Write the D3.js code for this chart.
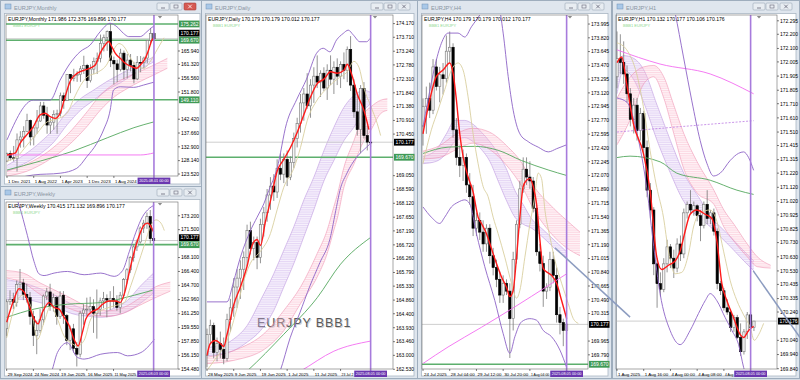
<!DOCTYPE html>
<html><head><meta charset="utf-8">
<script src="https://cdn.jsdelivr.net/npm/d3@7/dist/d3.min.js"></script>
<style>html,body{margin:0;padding:0;background:#d3dbe4;overflow:hidden}svg{display:block}</style>
</head><body>
<svg id="chart" width="800" height="380" font-family="Liberation Sans, Arial, sans-serif"></svg>
<script>
// ================= DATA =================
// ---- Monthly (idx 0 = Dec 2021) [open, high, low, close]
const mOHLC = [
[128.0,130.9,127.6,130.6],[130.6,131.6,128.2,129.1],[129.1,133.2,127.9,128.9],[128.9,137.5,124.4,135.3],
[135.3,138.3,132.6,136.3],[136.3,140.0,132.7,138.2],[138.2,144.3,138.0,142.0],[142.0,142.3,133.4,136.3],
[136.3,139.6,133.4,139.4],[139.4,145.6,137.4,141.8],[141.8,148.4,141.5,147.0],[147.0,148.4,142.6,143.8],
[143.8,146.7,137.4,140.4],[140.4,142.9,137.4,141.4],[141.4,145.5,138.8,144.1],[144.1,145.7,137.4,144.4],
[144.4,151.6,143.4,150.5],[150.5,151.6,146.0,148.8],[148.8,158.0,148.7,157.9],[157.9,158.0,151.4,156.5],
[156.5,159.8,155.5,157.5],[157.5,159.0,155.3,157.8],[157.8,160.8,155.3,159.8],[159.8,164.3,158.0,161.0],
[161.0,161.5,153.2,155.7],[155.7,161.3,155.1,159.7],[159.7,163.7,158.0,162.3],[162.3,165.4,158.0,163.4],
[163.4,171.6,162.0,168.6],[168.6,171.6,165.8,170.6],[170.6,173.0,166.0,172.6],[172.6,175.4,160.4,162.7],
[162.7,164.0,154.4,161.5],[161.5,162.9,155.2,159.5],[159.5,166.7,158.9,165.2],[165.2,166.1,156.2,159.5],
[159.5,164.9,156.5,162.8],[162.8,164.9,158.9,161.0],[161.0,162.2,154.8,156.3],[156.3,164.2,155.9,162.0],
[162.0,164.2,158.6,161.9],[161.9,164.0,159.9,163.5],[163.5,169.7,161.7,169.6],[169.6,173.9,168.2,171.986],
[171.986,172.376,169.896,170.177]];
const mRed = [[0,130.1],[2.4,130.7],[3.9,134.1],[5.9,137.0],[7.9,139.9],[9.9,143.9],[11.4,144.5],[12.9,143.3],[14.4,142.7],[15.9,144.5],[17.4,150.2],[18.9,155.4],[20.4,157.7],[21.9,158.8],[23.4,159.4],[24.9,160.0],[26.4,161.1],[27.9,165.2],[29.4,168.0],[30.4,169.2],[31.4,167.4],[32.4,165.2],[33.9,163.4],[35.4,161.7],[37.4,160.5],[38.9,160.0],[39.9,161.1],[41.4,163.4],[42.4,166.3],[43.4,169.7],[44,170.3]];
const mTan = [[0,128.0],[3,129.5],[6,133.5],[9,137.5],[12,141.5],[15,142.5],[18,144.5],[20,149.5],[22,154.0],[24,157.0],[27,158.5],[30,161.5],[32,166.5],[33.5,168.5],[35,167.5],[37,163.5],[39,160.5],[41,160.0],[43,162.5],[45,166.5],[47,170.5]];
const mBBU = [[0,135.3],[7.9,149.0],[12.9,149.0],[15.9,155.9],[18.9,161.7],[21.9,165.7],[24.9,168.0],[27.9,172.6],[30.9,175.5],[32.9,174.3],[34.9,172.0],[36.4,170.9],[39.9,170.9],[41.9,172.6],[43.4,174.1],[44,174.5]];
const mBBL = [[0,121.0],[7.9,123.2],[15.9,123.8],[20.9,125.5],[23.9,129.5],[26.9,134.1],[28.9,138.7],[30.9,145.6],[31.9,152.5],[33.9,153.6],[37.9,153.4],[40.9,154.2],[43.4,155.0],[44,155.2]];
const mPurple = [[0,126.5,124.5],[5,130.0,127.0],[10,134.5,130.5],[14,139.0,134.5],[18,145.0,140.5],[22,149.5,145.5],[26,152.5,149.0],[30,155.5,152.5],[34,158.0,155.0],[38,160.5,158.0],[42,162.8,161.0],[44,164.0,162.2]];
const mPink = [[0,124.5,122.8],[6,127.0,124.5],[12,131.0,128.0],[18,137.0,133.0],[24,145.0,140.0],[28,150.8,145.6],[32,154.5,150.0],[36,157.0,153.0],[40,159.0,155.5],[44,161.1,157.7],[48,163.4,160.0]];
const mGreen = [[0,124.9],[10,128.0],[20,131.5],[30,136.0],[38,139.5],[44,141.5]];
const mMagenta = [[0,130.1],[40,130.1],[44,130.8]];
const mLevels = [175.262,169.670,149.110];
const mTicks = ['165.940','161.320','156.560','151.800','147.040','142.420','137.660','132.900','128.140','123.520'];
const mTimes = [[0,'1 Dec 2021'],[8,'1 Aug 2022'],[16,'1 Apr 2023'],[24,'1 Dec 2023'],[32,'1 Aug 2024']];

// ---- Weekly (idx 0 = 29 Sep 2024)
const wOHLC = [
[159.4,163.0,158.5,162.7],[162.7,164.1,162.3,163.0],[163.0,163.8,161.8,162.6],[162.6,165.3,162.1,164.8],
[164.8,166.7,164.0,165.0],[165.0,165.5,162.9,163.6],[163.6,164.9,162.6,163.2],[163.2,163.9,159.9,160.9],
[160.9,161.6,157.3,158.6],[158.6,160.4,156.3,159.2],[159.2,161.8,158.9,160.5],[160.5,163.6,159.9,163.4],
[163.4,164.4,162.9,163.9],[163.9,164.9,161.6,162.1],[162.1,163.7,161.5,163.2],[163.2,163.4,159.9,160.9],
[160.9,164.0,160.6,163.4],[163.5,164.0,160.0,161.0],[161.0,161.2,157.4,158.0],[158.0,159.8,156.8,159.4],
[159.4,160.0,156.5,157.0],[157.0,157.8,154.8,156.3],[156.3,161.6,155.9,161.3],[161.3,162.4,159.9,161.7],
[161.7,163.2,161.0,161.8],[161.8,163.3,161.4,162.1],[162.1,163.0,158.9,161.3],[161.3,164.2,158.2,161.8],
[161.8,163.2,161.0,162.8],[162.8,163.9,161.9,163.1],[163.1,163.6,160.8,162.9],[162.9,164.0,161.7,163.1],
[163.1,164.6,162.0,162.8],[162.8,163.5,161.6,162.0],[162.0,163.9,161.3,163.5],[163.5,165.6,163.1,165.4],
[165.4,166.8,164.9,166.6],[166.6,168.3,166.2,168.1],[168.1,169.6,167.6,169.4],[169.4,170.3,168.9,170.0],
[170.0,171.9,169.8,171.7],[171.7,172.7,171.1,172.3],[172.3,173.6,171.6,173.1],[173.1,173.9,169.8,170.4],
[170.415,171.132,169.896,170.177]];
const wRed = [[0,160.2],[2.2,163.0],[3.7,164.3],[5.2,163.9],[6.7,162.2],[8.2,160.6],[9.4,160.0],[10.7,161.4],[12.7,162.6],[14.2,162.0],[15.7,161.8],[17.2,160.8],[18.7,159.8],[20.2,158.1],[21.4,157.3],[22.7,159.0],[23.7,160.6],[25.2,161.4],[27.2,161.8],[28.7,162.4],[30.7,162.8],[32.7,162.8],[34,162.6],[35.4,163.9],[36.7,166.3],[38.2,168.8],[39.7,170.8],[41.2,172.1],[42.2,172.3],[43.2,171.9],[44,171.2]];
const wTan = [[0,158.3],[2.2,161.8],[4.7,163.5],[7.2,162.2],[9.2,158.1],[11.2,160.2],[13.2,162.2],[15.2,160.6],[17.2,158.5],[19.2,157.7],[21.2,157.3],[23.2,158.0],[25.2,160.6],[27.2,161.4],[29.2,161.8],[32.2,162.2],[35.2,162.6],[37.2,164.7],[39.2,167.1],[41.2,169.6],[43.2,172.0],[44.7,172.7],[46.2,172.3],[47.2,171.4]];
const wBBU = [[0,177.5],[2,176.3],[3.7,174.5],[6.2,170.8],[8.2,167.6],[9.7,166.1],[11.2,165.9],[14.2,166.2],[18.2,166.4],[23.2,166.0],[28.2,166.2],[32.2,165.8],[34.7,166.5],[36.7,168.8],[38.7,171.2],[40.7,173.1],[42.7,174.1],[44.2,174.5]];
const wBBL = [[0,152.5],[8,152.5],[13.2,154.0],[15.2,156.5],[18.2,157.7],[21.2,155.9],[23.2,155.7],[28.2,156.3],[33.2,156.5],[36.2,156.1],[40.2,156.5],[44.2,158.1]];
const wPurple = [[0,165.4,163.0],[5,165.0,163.0],[10,164.3,162.6],[15,163.4,162.0],[20,162.3,161.2],[25,161.6,160.9],[28,161.3,160.8],[32,161.9,161.0],[36,162.8,161.5],[40,164.6,162.5],[44,166.2,163.8]];
const wPink = [[0,166.5,165.6],[5,166.2,165.0],[10,165.0,163.6],[13,164.4,162.9],[18,163.4,162.0],[25,162.0,161.1],[30,161.6,160.9],[35,162.0,161.3],[40,163.2,162.3],[44,164.4,163.1],[49,165.1,164.0]];
const wGreen = [[0,160.8],[8.2,161.8],[18.2,162.4],[28.2,162.6],[38.2,163.5],[43.7,164.1]];
const wLevels = [169.670];
const wTicks = ['173.200','171.500','168.100','166.400','164.700','162.960','161.250','159.550','157.850','156.150','154.480'];
const wTimes = [[0,'29 Sep 2024'],[8,'24 Nov 2024'],[16,'19 Jan 2025'],[24,'16 Mar 2025'],[32,'11 May 2025']];

// ---- Daily (idx 0 = 28 May 2025)
const dOHLC = [
[163.0,163.9,162.6,163.7],[163.7,164.2,163.4,164.0],[164.0,164.1,162.9,163.1],[163.1,163.6,162.8,163.4],
[163.4,163.8,162.9,163.2],[163.2,163.6,162.7,162.9],[162.9,164.4,162.8,164.2],[164.2,164.9,163.8,164.6],
[164.6,165.6,164.3,165.3],[165.3,165.9,164.6,165.6],[165.6,166.2,164.9,165.9],[165.9,166.5,165.2,166.3],
[166.3,167.4,166.0,167.2],[167.2,167.5,166.4,166.6],[166.6,167.0,166.2,166.8],[166.8,167.0,165.9,166.3],
[166.3,167.6,166.1,167.4],[167.4,168.0,167.0,167.8],[167.8,168.6,167.5,168.4],[168.4,169.0,167.9,168.7],
[168.7,169.1,168.2,168.5],[168.5,169.6,168.3,169.3],[169.3,169.8,168.9,169.1],[169.1,169.8,168.8,169.6],
[169.6,169.9,168.7,169.0],[169.0,169.7,168.9,169.5],[169.5,170.5,169.3,170.3],[170.3,171.0,170.0,170.8],
[170.8,171.8,170.5,171.5],[171.5,172.0,170.9,171.8],[171.8,172.5,171.3,171.4],[171.4,172.3,171.0,172.1],
[172.1,172.7,171.5,172.4],[172.4,173.1,172.0,172.2],[172.2,172.6,171.7,172.5],[172.5,172.7,171.9,172.0],
[172.0,172.8,171.6,172.6],[172.6,173.1,172.1,172.3],[172.3,172.9,171.8,172.7],[172.7,173.0,172.1,172.4],
[172.4,172.9,172.0,172.8],[172.8,173.2,172.3,172.6],[172.6,173.4,172.2,173.3],[173.3,173.75,171.9,172.1],
[172.1,172.3,171.0,171.2],[171.2,171.8,170.4,170.6],[170.6,172.1,169.8,171.99],[171.99,172.2,170.3,170.4],
[170.4,170.75,169.9,170.18],[170.179,170.179,170.012,170.177]];
const dRed = [[0,163.0],[1,163.4],[2.5,163.5],[4,163.4],[5,163.3],[6,163.7],[8,164.7],[10,165.3],[12,166.0],[13.5,166.7],[15,166.9],[16,166.7],[17.5,167.5],[19,168.2],[21,169.2],[23,169.6],[25,170.0],[27,170.5],[29,171.1],[31,171.7],[33,172.15],[35,172.3],[37,172.55],[39,172.5],[41,172.6],[42,172.8],[43.5,172.4],[45,171.8],[47,171.25],[48.5,170.6]];
const dTan = [[0,162.5],[2,162.8],[7,163.8],[9,164.6],[11,165.5],[13,166.1],[16,166.5],[19,167.1],[21,167.9],[23,168.66],[26,169.3],[28,170.0],[30,170.9],[33,171.6],[36,172.0],[39,172.3],[42,172.55],[44,172.9],[45.5,172.7],[47,172.0],[49,171.4],[51,170.8],[52,170.4]];
const dBBU = [[0,164.8],[6,164.8],[8,165.5],[10,166.3],[13,167.2],[15,167.65],[17,168.1],[18.5,168.55],[21,169.3],[23.8,170.8],[26.8,171.6],[29.8,172.3],[32.8,173.17],[34.8,173.34],[36.8,173.22],[38.8,173.62],[40.8,173.84],[42.3,173.95],[43.8,173.79],[45.8,173.56],[47.8,173.56],[48.8,173.67]];
const dBBL = [[0,161.3],[10,161.0],[18,161.6],[21.9,162.47],[24.9,163.59],[27.8,164.43],[30.8,165.33],[33.8,166.12],[36.8,166.91],[38.8,168.01],[39.8,168.55],[41.8,169.11],[44.8,169.67],[47.8,170.01],[48.8,170.12]];
const dPurple = [[0,163.27,162.99],[5,163.36,163.05],[8,163.55,163.16],[12,164.0,163.44],[16,164.85,163.83],[20,165.75,164.51],[23,166.54,165.30],[26,167.33,166.09],[29,168.23,166.99],[32,169.0,167.9],[35,169.89,168.87],[38,170.68,169.56],[41,171.35,170.23],[44,171.75,170.68],[47,171.92,171.25],[49,171.86,171.47]];
const dPink = [[0,162.94,162.72],[8,163.16,162.83],[18,163.83,163.27],[23,164.51,163.83],[28,165.30,164.74],[33,166.43,165.64],[36,167.22,166.43],[38,168.01,167.22],[39,168.4,167.6],[41,169.33,168.66],[44,170.23,169.44],[47,171.14,170.23],[49,171.36,170.57],[52,171.59,171.14],[54,171.64,171.25]];
const dGreen = [[0,161.0],[5,161.8],[12,162.47],[23,163.71],[33,164.94],[40,166.07],[49,166.97]];
const dMagenta = [[20,162.0],[28,162.47],[38,163.14],[49,163.48]];
const dLevels = [169.670];
const dTicks = ['174.170','173.710','173.240','172.780','172.310','171.840','171.380','170.910','170.450','169.980','169.520','169.050','168.590','168.120','167.650','167.190','166.720','166.260','165.790','165.330','164.860','164.400','163.930','163.460','163.000','162.530'];
const dTimes = [[0,'28 May 2025'],[8,'9 Jun 2025'],[16,'19 Jun 2025'],[24,'1 Jul 2025'],[32,'11 Jul 2025'],[40,'23 Jul 2']];

// ---- H4 (idx 0 = 24 Jul 2025 20:00)
const h4OHLC = [
[172.70,173.05,172.45,172.95],[172.95,173.20,172.60,173.05],[173.05,173.25,172.80,172.90],[172.90,173.55,172.85,173.45],
[173.45,173.55,173.15,173.20],[173.20,173.45,173.00,173.35],[173.35,173.50,173.10,173.30],[173.30,173.85,173.25,173.65],
[173.65,173.90,173.50,173.70],[173.70,173.75,172.55,172.65],[172.65,172.80,172.20,172.30],[172.30,172.45,172.05,172.20],
[172.20,172.40,172.00,172.30],[172.30,172.35,171.85,171.95],[171.95,172.10,171.70,171.80],[171.80,171.95,171.30,171.40],
[171.40,171.60,171.30,171.50],[171.50,171.60,171.25,171.35],[171.35,171.50,171.10,171.20],[171.20,171.45,171.10,171.40],
[171.40,171.45,170.95,171.05],[171.05,171.15,170.80,170.90],[170.90,171.00,170.65,170.75],[170.75,170.85,170.45,170.55],
[170.55,170.80,170.45,170.70],[170.70,170.75,170.55,170.60],[170.60,170.70,169.75,170.25],[170.25,171.10,170.10,171.00],
[171.00,171.50,170.95,171.45],[171.45,172.00,171.40,171.90],[171.90,172.30,171.85,172.15],[172.15,172.30,171.95,172.05],
[172.05,172.25,171.90,172.00],[172.00,172.05,171.60,171.65],[171.65,171.70,171.05,171.10],[171.10,171.20,170.85,170.95],
[170.95,171.05,170.40,170.60],[170.60,170.70,170.50,170.65],[170.65,171.10,170.60,171.00],[171.00,171.10,170.70,170.80],
[170.80,170.90,170.20,170.30],[170.30,170.40,170.05,170.20],[170.20,170.25,169.90,170.10],[170.10,170.20,170.05,170.18]];
const h4Red = [[0,172.60],[2,173.03],[4,173.33],[6,173.41],[8,173.50],[9,173.37],[10,173.03],[11,172.60],[12,172.31],[13.5,172.05],[15,171.86],[16.5,171.54],[17.5,171.46],[19,171.33],[20.5,171.14],[22,170.95],[23.5,170.78],[25,170.65],[26,170.53],[27,170.61],[28,171.03],[29,171.54],[30,171.93],[31,172.01],[32,172.03],[33,171.93],[34,171.71],[35,171.25],[36,170.89],[37.5,170.83],[38.5,170.80],[40,170.70],[41.5,170.48],[43,170.25]];
const h4Tan = [[0,172.22],[2.5,172.65],[4.5,172.90],[6.5,173.16],[8.5,173.41],[10.5,173.50],[12,173.41],[13.5,173.07],[15,172.60],[16.5,172.22],[18,171.93],[19.5,171.80],[21,171.54],[22.5,171.33],[24.5,171.03],[26.5,170.70],[28,170.51],[29,170.61],[30.5,171.03],[32,171.45],[33.3,171.76],[34.5,172.10],[35.5,172.03],[36.5,171.63],[38,171.29],[39.5,170.99],[41.5,170.70],[43.5,170.44],[45,170.25],[46.5,170.19]];
const h4BBU = [[0,172.69],[1.5,173.03],[3.5,173.45],[5.5,173.75],[7.5,173.88],[10.5,173.88],[12.5,173.83],[14.5,173.96],[17,174.11],[18.5,174.22],[20.5,174.35],[22.5,174.26],[24,173.88],[25.5,173.33],[27,172.90],[29,172.60],[31.5,172.50],[34.5,172.43],[37.5,172.37],[40,172.41],[43,172.46]];
const h4BBL = [[0,171.67],[2.5,171.54],[5,171.46],[6.5,171.54],[8.5,171.67],[10.5,171.73],[12.5,171.76],[14,171.71],[16,171.33],[18.5,170.91],[21.5,170.48],[24,170.06],[26,169.81],[27.5,170.02],[29.5,170.21],[32,170.25],[34,170.23],[36,170.10],[38.5,170.02],[41,169.85],[43,169.63]];
const h4Purple = [[0,172.31,172.22],[4,172.40,172.25],[7,172.60,172.35],[9.5,172.77,172.50],[12.5,172.77,172.55],[15,172.72,172.50],[17.5,172.62,172.40],[20,172.50,172.25],[22.5,172.35,172.00],[25,172.15,171.75],[27.5,171.88,171.54],[30,171.70,171.45],[32.5,171.52,171.40],[36,171.38,171.28],[40,171.22,171.12],[43,171.10,171.03]];
const h4Pink = [[0,172.38,172.28],[5,172.45,172.30],[10,172.60,172.40],[15,172.67,172.48],[20,172.62,172.40],[25,172.45,172.20],[30,172.20,171.90],[33,171.95,171.65],[38,171.70,171.35],[43,171.50,171.15],[47,171.35,171.05]];
const h4Green = [[0,172.35],[7.5,172.43],[15.5,172.44],[22.5,172.39],[29.5,172.26],[37.5,172.14],[43,172.07]];
const h4Magenta = [[0,169.68],[7.5,169.89],[17.5,170.14],[27.5,170.40],[37.5,170.67],[43,170.82]];
const h4Trend = [[39.5,171.15],[62,170.27]];
const h4Levels = [169.670];
const h4Ticks = ['173.995','173.820','173.645','173.470','173.295','173.120','172.945','172.770','172.595','172.420','172.245','172.070','171.890','171.715','171.540','171.365','171.190','171.015','170.840','170.665','170.490','170.315','170.140','169.965','169.790','169.615'];
const h4Times = [[0,'24 Jul 2025'],[8,'28 Jul 04:00'],[16,'29 Jul 12:00'],[24,'30 Jul 20:00'],[32,'1 Aug 04:00']];

// ---- H1 (idx 0 = 1 Aug 2025 08:00)
const h1OHLC = [
[171.90,172.22,171.82,172.03],[172.03,172.20,171.92,172.00],[172.00,172.15,171.85,171.92],[171.92,171.98,171.72,171.78],
[171.78,171.82,171.55,171.60],[171.60,171.75,171.50,171.70],[171.70,171.75,171.45,171.52],[171.52,171.68,171.45,171.64],
[171.64,171.66,171.35,171.40],[171.40,171.45,171.05,171.10],[171.10,171.15,170.90,170.96],[170.96,170.98,170.50,170.58],
[170.58,170.62,170.27,170.44],[170.44,170.52,170.35,170.40],[170.40,170.62,170.38,170.58],[170.58,170.75,170.52,170.70],
[170.70,170.72,170.55,170.62],[170.62,170.68,170.48,170.55],[170.55,170.76,170.52,170.72],[170.72,170.78,170.60,170.65],
[170.65,170.97,170.62,170.94],[170.94,171.02,170.90,171.00],[171.00,171.10,170.93,170.96],[170.96,171.02,170.92,170.99],
[170.99,171.00,170.88,170.92],[170.92,170.96,170.74,170.85],[170.85,171.02,170.83,171.00],[171.00,171.10,170.86,170.90],
[170.90,170.96,170.86,170.94],[170.94,170.97,170.78,170.81],[170.81,170.83,170.40,170.44],[170.44,170.46,170.36,170.39],
[170.39,170.41,170.25,170.27],[170.27,170.33,170.22,170.24],[170.24,170.26,170.10,170.13],[170.13,170.22,170.10,170.20],
[170.20,170.22,170.05,170.06],[170.06,170.16,169.93,169.96],[169.96,170.12,169.94,170.10],[170.10,170.24,170.05,170.22],
[170.22,170.24,170.05,170.13],[170.132,170.177,170.106,170.176]];
const h1Red = [[0,172.00],[1.4,172.04],[2.9,171.85],[4.9,171.57],[7.9,171.36],[9.9,171.10],[11.9,170.63],[13.4,170.54],[15.4,170.57],[17.4,170.60],[18.9,170.67],[20.4,170.81],[21.9,170.93],[23.9,170.96],[26.4,170.93],[28.4,170.90],[29.9,170.74],[31.4,170.44],[32.9,170.32],[34.9,170.20],[36.9,170.08],[37.9,170.06],[39.4,170.11],[40.9,170.14]];
const h1Tan = [[0,172.14],[2.9,172.09],[5.9,171.92],[7.9,171.69],[9.9,171.38],[11.9,171.12],[13.9,170.91],[15.4,170.67],[17.4,170.51],[19.4,170.52],[21.4,170.65],[22.9,170.84],[24.9,170.94],[27.9,170.96],[29.9,170.88],[31.9,170.67],[33.9,170.46],[35.9,170.32],[37.9,170.22],[39.9,170.13],[41.1,170.04],[42.4,170.08],[43.9,170.16]];
const h1BBU = [[0,172.9],[10,172.8],[15,172.6],[17.4,172.35],[19.9,172.04],[22.4,171.73],[24.9,171.45],[26.9,171.29],[28.9,171.20],[30.9,171.22],[33.9,171.31],[36.4,171.36],[37.9,171.37],[39.4,171.33],[40.9,171.24]];
const h1BBL = [[0,171.75],[3,171.72],[6,171.5],[9,171.1],[11,170.7],[12.9,170.37],[15.9,170.11],[18.9,170.01],[21.9,170.11],[24.4,170.23],[26.4,170.32],[27.9,170.37],[29.9,170.32],[32.4,170.20],[34.4,170.11],[36.4,170.01],[37.9,169.85],[38.9,169.77]];
const h1Purple = [[0,171.98,171.78],[2,172.05,171.95],[5,172.03,171.88],[8,171.95,171.72],[12,171.70,171.45],[16,171.45,171.22],[20,171.22,171.02],[25,171.03,170.90],[28,170.91,170.84],[31,170.84,170.77],[34,170.77,170.70],[38,170.67,170.60],[41,170.60,170.53]];
const h1Pink = [[0,171.75,171.42],[4,171.90,171.60],[8,171.97,171.85],[11,171.98,171.90],[14,171.90,171.75],[17,171.70,171.50],[20,171.50,171.25],[24,171.30,171.08],[29,171.10,171.00],[32,170.96,170.84],[35,170.86,170.74],[39,170.72,170.63],[42,170.63,170.56],[46,170.57,170.55]];
const h1Green = [[0,171.33],[3.9,171.34],[12.9,171.30],[17.9,171.22],[27.9,171.17],[35.9,171.10],[40.9,171.07]];
const h1Magenta = [[0,172.09],[12.9,171.99],[27.9,171.92],[40.9,171.78]];
const h1Dashed = [[0,171.51],[20,171.55],[40.9,171.59]];
const h1Trend = [[40.8,170.53],[54.8,170.06]];
const h1Ticks = ['172.295','172.200','172.100','172.005','171.905','171.805','171.710','171.610','171.510','171.415','171.315','171.220','171.120','171.020','170.925','170.825','170.730','170.630','170.530','170.435','170.335','170.240','170.140','170.040','169.940','169.840'];
const h1Times = [[0,'1 Aug 2025'],[8,'1 Aug 16:00'],[16,'4 Aug 00:00'],[24,'4 Aug 08:00'],[32,'4 Aug']];

// ================= DRAWING =================
const svg = d3.select('#chart');
const defs = svg.append('defs');
function hatch(id, bg, ln){
  const p = defs.append('pattern').attr('id',id).attr('patternUnits','userSpaceOnUse').attr('width',4).attr('height',1.8);
  p.append('rect').attr('width',4).attr('height',1.8).attr('fill',bg);
  p.append('rect').attr('width',4).attr('height',0.5).attr('fill',ln);
}
hatch('hPur','rgba(225,205,245,0.25)','rgba(180,140,225,0.48)');
hatch('hPink','rgba(255,214,226,0.25)','rgba(245,135,170,0.48)');
svg.append('rect').attr('width',800).attr('height',380).attr('fill','#d3dbe4');

const trendLayer = [];

function drawPanel(P){
  const [wx,wy,ww,wh] = P.win, [l,t,r,b] = P.plot;
  const g = svg.append('g');
  g.append('rect').attr('x',wx+.5).attr('y',wy+.5).attr('width',ww-1).attr('height',wh-1)
    .attr('fill','#dfe6ee').attr('stroke','#9eadbd');
  g.append('rect').attr('x',wx+5).attr('y',wy+4).attr('width',6).attr('height',5)
    .attr('fill','#a9c8e8').attr('stroke','#6f91b5').attr('stroke-width',.5);
  g.append('text').attr('x',wx+14).attr('y',wy+9.5).attr('font-size',5.6).attr('fill','#8995a2').text(P.title);
  [ww-47, ww-34, ww-20].forEach((dx,i)=>{
    const red = (i===2 && P.active);
    g.append('rect').attr('x',wx+dx).attr('y',wy+3).attr('width',12).attr('height',7).attr('rx',1)
      .attr('fill', red ? '#d65a52' : '#e8edf2').attr('stroke', red ? '#a8403a' : '#9aa8b7').attr('stroke-width',.6);
    const cx = wx+dx+6, cy = wy+6.5, col = red ? '#fff' : '#667';
    if(i===0) g.append('line').attr('x1',cx-2).attr('x2',cx+2).attr('y1',cy+1.5).attr('y2',cy+1.5).attr('stroke',col).attr('stroke-width',.8);
    if(i===1) g.append('rect').attr('x',cx-2).attr('y',cy-1.5).attr('width',4).attr('height',3).attr('fill','none').attr('stroke',col).attr('stroke-width',.6);
    if(i===2){ g.append('path').attr('d',`M${cx-1.8},${cy-1.8}L${cx+1.8},${cy+1.8}M${cx+1.8},${cy-1.8}L${cx-1.8},${cy+1.8}`).attr('stroke',col).attr('stroke-width',.8); }
  });
  g.append('rect').attr('x',wx+4.5).attr('y',wy+13.5).attr('width',ww-8.5).attr('height',wh-16.5)
    .attr('fill','#fff').attr('stroke','#aab6c3').attr('stroke-width',.8);

  const xs = d3.scaleLinear().domain(P.xDom).range([l,r]);
  const ys = d3.scaleLinear().domain(P.yDom).range([b,t]);
  const ln = d3.line().x(d=>xs(d[0])).y(d=>ys(d[1])).curve(d3.curveMonotoneX);
  const cid = 'clip'+P.key;
  defs.append('clipPath').attr('id',cid).append('rect').attr('x',l).attr('y',t).attr('width',r-l).attr('height',b-t);
  const pg = g.append('g').attr('clip-path',`url(#${cid})`);

  if(P.watermark){
    const [wmx,wmy,wms] = P.watermark;
    pg.append('text').attr('x',wmx+1).attr('y',wmy+1).attr('font-size',12.5).attr('letter-spacing',0.9)
      .attr('fill','#d0d0d0').text(wms);
    pg.append('text').attr('x',wmx).attr('y',wmy).attr('font-size',12.5).attr('letter-spacing',0.9)
      .attr('fill','#5a5a5a').text(wms);
  }

  [[P.purple,'hPur','rgba(178,132,218,0.8)'],[P.pink,'hPink','rgba(236,128,164,0.8)']].forEach(([data,pat,edge])=>{
    if(!data) return;
    const ar = d3.area().x(d=>xs(d[0])).y0(d=>ys(d[2])).y1(d=>ys(d[1])).curve(d3.curveMonotoneX);
    pg.append('path').attr('d',ar(data)).attr('fill',`url(#${pat})`);
    pg.append('path').attr('d',ln(data.map(d=>[d[0],d[1]]))).attr('fill','none').attr('stroke',edge).attr('stroke-width',.6);
    pg.append('path').attr('d',ln(data.map(d=>[d[0],d[2]]))).attr('fill','none').attr('stroke',edge).attr('stroke-width',.6);
  });

  pg.append('line').attr('x1',l).attr('x2',r).attr('y1',ys(P.cur)).attr('y2',ys(P.cur)).attr('stroke','#c8c8c8').attr('stroke-width',.9);
  (P.levels||[]).forEach(v=>{
    pg.append('line').attr('x1',l).attr('x2',r).attr('y1',ys(v)).attr('y2',ys(v)).attr('stroke','#5daf6d').attr('stroke-width',1.6);
  });

  const bw = 2.3;
  P.ohlc.forEach((c,i)=>{
    const [o,h,lo,cl] = c, x = xs(i), up = cl >= o;
    pg.append('line').attr('x1',x).attr('x2',x).attr('y1',ys(h)).attr('y2',ys(lo)).attr('stroke','#777').attr('stroke-width',.8);
    const y1 = ys(Math.max(o,cl)), y2 = ys(Math.min(o,cl));
    pg.append('rect').attr('x',x-bw/2).attr('y',y1).attr('width',bw).attr('height',Math.max(.8,y2-y1))
      .attr('fill', up ? '#f4f4f4' : '#000000').attr('stroke', up ? '#777' : '#000').attr('stroke-width',.6);
  });

  const path = (data,col,w,dash)=>{ if(!data) return; const p = pg.append('path').attr('d',ln(data)).attr('fill','none').attr('stroke',col).attr('stroke-width',w); if(dash) p.attr('stroke-dasharray',dash); };
  path(P.green,'#55a85f',.9);
  path(P.magenta,'#f36cf0',.9);
  path(P.dashed,'#c48ae6',.9,'2,1.5');
  path(P.bbu,'#8d63c6',.9);
  path(P.bbl,'#8d63c6',.9);
  path(P.tan,'#d9cf9f',.9);
  path(P.red,'#ff1a1a',1.4);

  const vx = xs(P.vIdx);
  g.append('line').attr('x1',vx).attr('x2',vx).attr('y1',t).attr('y2',b+8).attr('stroke','#a77bdc').attr('stroke-width',1.6);

  g.append('rect').attr('x',l).attr('y',t).attr('width',r-l).attr('height',b-t).attr('fill','none').attr('stroke','#6b6b6b').attr('stroke-width',.6);

  const tx = r-18;
  g.append('path').attr('d',`M${tx-2.2},${t+1}L${tx+2.2},${t+1}L${tx},${t+3.5}Z`).attr('fill','#8a8a8a');

  // price axis boxes (current price box sits just above a nearby level box)
  const levelBoxes = (P.levels||[]).map(v=>({v, y:ys(v), col:'#3f9a56', txt:v.toFixed(3)}));
  let curY = ys(P.cur);
  levelBoxes.forEach(bx=>{ if(Math.abs(bx.y-curY) < 7) curY = bx.y - 7; });
  const boxes = [{v:P.cur, y:curY, col:'#000', txt:P.curText}].concat(levelBoxes);
  P.ticks.forEach(s=>{
    const v = +s, y = ys(v);
    if(y < t-1 || y > b+2) return;
    if(boxes.some(bx=>Math.abs(bx.y-y) < 6.5)) return;
    g.append('line').attr('x1',r).attr('x2',r+2).attr('y1',y).attr('y2',y).attr('stroke','#000').attr('stroke-width',.5);
    g.append('text').attr('x',r+3).attr('y',y+1.8).attr('font-size',5).attr('fill','#000').text(s);
  });
  boxes.forEach(bx=>{
    g.append('rect').attr('x',r+1).attr('y',bx.y-3.4).attr('width',20.5).attr('height',6.8).attr('fill',bx.col);
    g.append('text').attr('x',r+2.5).attr('y',bx.y+1.8).attr('font-size',5).attr('fill','#fff').text(bx.txt);
  });

  // time axis: purple marker box measured first; a label running into it is narrowed to end at the box
  const tt = g.append('text').attr('font-size',3.8).attr('fill','#fff').attr('y',b+6.4).text(P.vLabel);
  const tw = tt.node().getComputedTextLength();
  const boxL = vx - tw/2 - 1.6;
  P.times.forEach(([i,s])=>{
    const x = xs(i);
    g.append('line').attr('x1',x).attr('x2',x).attr('y1',b).attr('y2',b+2).attr('stroke','#000').attr('stroke-width',.5);
    const lt = g.append('text').attr('x',x+1).attr('y',b+6.8).attr('font-size',4.4).attr('fill','#000').text(s);
    const w = lt.node().getComputedTextLength();
    if(x+1+w > boxL-0.8 && x+1 < boxL) lt.attr('textLength', Math.max(4, boxL-1-(x+1))).attr('lengthAdjust','spacingAndGlyphs');
  });
  g.append('rect').attr('x',boxL).attr('y',b+1.6).attr('width',tw+3.2).attr('height',6.4).attr('fill','#6a37b0');
  tt.attr('x',vx-tw/2).raise();

  g.append('text').attr('x',l+2).attr('y',t+5.6).attr('font-size',5.1).attr('fill','#000').text(P.header);
  g.append('text').attr('x',l+7).attr('y',t+11.8).attr('font-size',4).attr('fill','#8fd88f').text(P.sub);

  if(P.trend) trendLayer.push([P.trend, xs, ys]);
}

const panels = [
 {key:'M', title:'EURJPY,Monthly', active:true, win:[0,0,204,187], plot:[6,15,178,176], xDom:[-0.3,51.2], yDom:[122.84,178.35],
  ohlc:mOHLC, red:mRed, tan:mTan, bbu:mBBU, bbl:mBBL, purple:mPurple, pink:mPink, green:mGreen, magenta:mMagenta,
  levels:mLevels, cur:170.177, curText:'170.177', ticks:mTicks, times:mTimes, vIdx:44, vLabel:'2025.08.01 00:00',
  header:'EURJPY,Monthly  171.986 172.376 169.896 170.177', sub:'BBB1 EURJPY'},
 {key:'W', title:'EURJPY,Weekly', win:[0,186,204,193], plot:[6,202,178,369], xDom:[-0.2,51.3], yDom:[154.49,174.88],
  ohlc:wOHLC, red:wRed, tan:wTan, bbu:wBBU, bbl:wBBL, purple:wPurple, pink:wPink, green:wGreen,
  levels:wLevels, cur:170.177, curText:'170.177', ticks:wTicks, times:wTimes, vIdx:44, vLabel:'2025.08.03 00:00',
  header:'EURJPY,Weekly  170.415 171.132 169.896 170.177', sub:'BBB1 EURJPY'},
 {key:'D', title:'EURJPY,Daily', win:[201,0,217,379], plot:[206,15,393,369], xDom:[-0.3,55.7], yDom:[162.54,174.46],
  ohlc:dOHLC, red:dRed, tan:dTan, bbu:dBBU, bbl:dBBL, purple:dPurple, pink:dPink, green:dGreen, magenta:dMagenta,
  levels:dLevels, cur:170.177, curText:'170.177', ticks:dTicks, times:dTimes, vIdx:49, vLabel:'2025.08.05 00:00',
  header:'EURJPY,Daily  170.179 170.179 170.012 170.177', sub:'BBB1 EURJPY', watermark:[257,327,'EURJPY  BBB1']},
 {key:'H4', title:'EURJPY,H4', win:[417,0,195,379], plot:[422,15,588,369], xDom:[-0.3,49.4], yDom:[169.61,174.11],
  ohlc:h4OHLC, red:h4Red, tan:h4Tan, bbu:h4BBU, bbl:h4BBL, purple:h4Purple, pink:h4Pink, green:h4Green, magenta:h4Magenta,
  levels:h4Levels, cur:170.177, curText:'170.177', ticks:h4Ticks, times:h4Times, vIdx:43, vLabel:'2025.08.05 00:00',
  header:'EURJPY,H4  170.179 170.179 170.012 170.177', sub:'BBB1 EURJPY', trend:h4Trend},
 {key:'H1', title:'EURJPY,H1', win:[612,0,188,379], plot:[616,15,777,369], xDom:[-0.3,47.9], yDom:[169.838,172.336],
  ohlc:h1OHLC, red:h1Red, tan:h1Tan, bbu:h1BBU, bbl:h1BBL, purple:h1Purple, pink:h1Pink, green:h1Green, magenta:h1Magenta, dashed:h1Dashed,
  levels:[], cur:170.176, curText:'170.176', ticks:h1Ticks, times:h1Times, vIdx:40, vLabel:'2025.08.05 00:00',
  header:'EURJPY,H1  170.132 170.177 170.106 170.176', sub:'BBB1 EURJPY', trend:h1Trend}
];
panels.forEach(drawPanel);

trendLayer.forEach(([tr,xs,ys])=>{
  svg.append('line').attr('x1',xs(tr[0][0])).attr('y1',ys(tr[0][1])).attr('x2',xs(tr[1][0])).attr('y2',ys(tr[1][1]))
    .attr('stroke','#8c9cc0').attr('stroke-width',1.5);
});
</script>
</body></html>
